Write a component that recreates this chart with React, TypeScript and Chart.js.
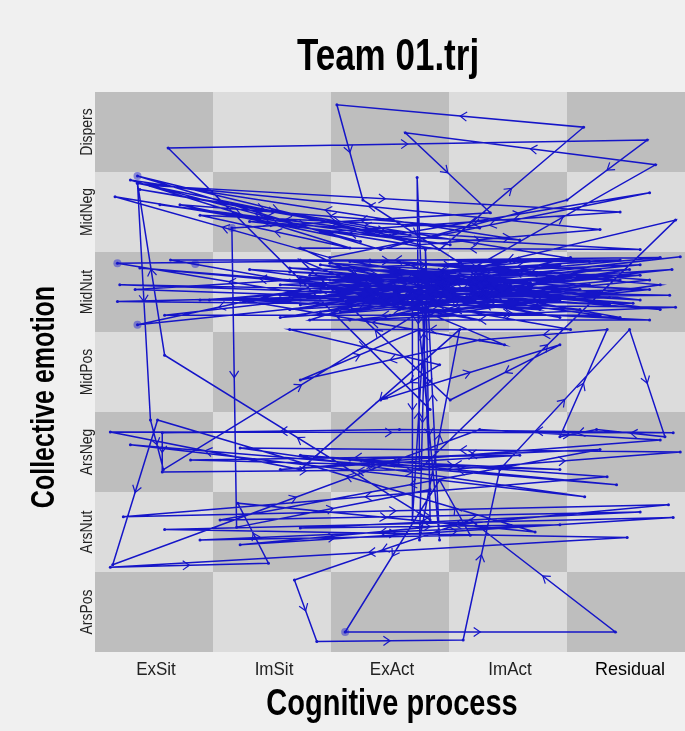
import { useEffect, useRef } from 'react';
import { Chart, registerables } from 'chart.js';

Chart.register(...registerables);

// Axis categories (cell centres sit at 1..5 and 1..7)
const cognitiveProcess = ['ExSit', 'ImSit', 'ExAct', 'ImAct', 'Residual'];
const collectiveEmotion = ['ArsPos', 'ArsNut', 'ArsNeg', 'MidPos', 'MidNut', 'MidNeg', 'Dispers'];

// Trajectory in cell units: [cognitive process, collective emotion]
const phaseOpening: number[][] = [
  [3.34, 3.53], [1.12, 6.80], [5.18, 6.90], [4.50, 6.15], [2.92, 5.53], [0.86, 6.45], [3.25, 5.59],
  [4.78, 5.78], [0.86, 6.36], [3.00, 5.71], [5.20, 6.24], [2.49, 5.43], [0.67, 6.19], [3.42, 5.53],
  [4.64, 7.06], [2.55, 7.34], [2.77, 6.15], [3.68, 5.28], [5.25, 6.59], [3.13, 6.99], [3.85, 5.99],
  [1.66, 5.80], [1.70, 2.06], [3.34, 2.53], [3.23, 6.43], [3.25, 2.78], [5.42, 5.90], [2.58, 4.90],
  [0.69, 5.36], [5.29, 5.43], [2.24, 5.03], [0.86, 4.59], [5.39, 5.28], [1.39, 4.90], [5.37, 4.96],
  [0.71, 5.09], [4.44, 4.90], [2.66, 4.65], [5.42, 4.81], [0.69, 4.88], [5.12, 5.03], [1.81, 5.28],
  [4.78, 4.71], [1.09, 4.71], [5.46, 5.44], [2.92, 5.03], [0.88, 5.30], [5.29, 4.78], [3.34, 5.15],
  [1.47, 4.90], [5.06, 4.86],
];
const phaseMidNut: number[][] = [
  [2.49, 5.15], [4.44, 5.34], [2.24, 4.84], [4.69, 5.09], [2.75, 5.28], [4.95, 5.21], [2.07, 4.96],
  [4.27, 4.78], [3.08, 5.38], [5.20, 5.15], [2.41, 4.75], [3.93, 5.21], [2.15, 5.30], [4.86, 4.93],
  [2.83, 4.84], [4.53, 5.43], [2.32, 5.09], [4.19, 5.03], [2.66, 5.38], [4.78, 5.28], [2.07, 4.68],
  [4.10, 4.90], [2.92, 5.21], [5.12, 5.34], [2.49, 4.96], [3.76, 4.65], [2.15, 5.15], [4.36, 5.15],
  [3.08, 4.78], [4.95, 4.68], [2.58, 5.30], [4.02, 5.38], [2.24, 4.90], [4.61, 4.78], [2.75, 5.09],
  [5.12, 4.90], [2.41, 5.34], [3.85, 4.96], [3.25, 4.68], [5.29, 5.09], [2.83, 5.40], [4.19, 5.25],
  [2.15, 4.78], [4.78, 5.00], [2.66, 5.18], [4.44, 4.68], [3.17, 5.00], [4.02, 4.80], [3.59, 5.38],
  [4.69, 5.38],
];
const phaseMidNeg: number[][] = [
  [0.88, 6.28], [3.17, 5.71], [1.05, 6.09], [3.51, 5.59], [1.81, 5.88], [4.10, 5.65], [0.80, 6.40],
  [2.66, 5.55], [1.39, 5.96], [3.76, 5.80], [1.22, 6.09], [2.75, 5.63], [0.97, 6.33], [4.95, 6.00],
  [2.41, 5.75], [5.12, 5.53], [2.24, 5.55],
];
const phaseAroused: number[][] = [
  [3.19, 4.90], [3.19, 2.15], [3.30, 4.84], [3.25, 1.90], [3.59, 4.53], [2.24, 2.78], [0.63, 3.25],
  [5.40, 3.24], [3.08, 3.28], [1.07, 3.24], [1.07, 2.75], [3.51, 2.78], [5.46, 3.00], [1.73, 3.05],
  [4.65, 2.44], [0.80, 3.09], [4.92, 2.59], [2.24, 2.96], [4.84, 2.69], [0.74, 2.19], [5.36, 2.34],
  [1.73, 1.84], [5.40, 2.18], [1.09, 2.03], [5.01, 1.93], [0.63, 1.56], [1.97, 1.61], [1.71, 2.36],
  [4.23, 2.00], [1.03, 3.40], [0.65, 1.59], [3.76, 3.28], [5.29, 3.15], [2.07, 2.78], [4.10, 2.96],
  [1.31, 2.90], [4.44, 2.78], [2.66, 2.90], [4.78, 3.03], [1.56, 2.15], [5.12, 2.25], [2.24, 2.05],
  [4.44, 2.09], [1.39, 1.90], [3.68, 1.96],
];
const phaseBottom: number[][] = [
  [3.42, 2.65], [2.62, 0.75], [4.91, 0.75], [3.68, 2.15], [2.19, 1.40], [2.38, 0.63], [3.62, 0.65],
  [3.93, 2.78], [5.03, 4.53], [5.33, 3.19], [4.75, 3.28], [4.44, 3.19], [4.84, 4.53], [3.76, 4.40],
  [2.24, 3.90], [3.25, 4.53], [3.42, 1.90], [3.30, 5.53], [3.34, 2.15],
];
const phaseClosing: number[][] = [
  [1.09, 4.21], [0.86, 6.36], [0.97, 3.40], [1.08, 2.78], [3.42, 4.90], [0.84, 5.03], [4.95, 5.40],
  [1.14, 5.40], [4.53, 4.53], [2.15, 4.53], [3.42, 4.09], [2.92, 3.65], [4.44, 4.34], [3.51, 3.65],
  [2.24, 5.40], [3.97, 4.34], [1.73, 4.90], [5.20, 4.65], [2.32, 4.65], [3.25, 5.09],
];
const phaseMidNutLate: number[][] = [
  [2.32, 5.21], [4.61, 5.03], [2.58, 4.75], [5.03, 5.28], [2.07, 5.09], [4.27, 4.93], [2.83, 5.34],
  [4.86, 4.84], [2.41, 5.00], [4.53, 5.18], [3.00, 4.71], [5.20, 5.03], [2.15, 5.25], [4.02, 5.09],
  [2.66, 4.84], [4.95, 5.15], [2.49, 5.36], [4.36, 4.96], [2.92, 4.93], [5.12, 5.21], [2.24, 5.18],
  [4.69, 4.88], [3.08, 5.25], [4.19, 5.12], [2.75, 4.96],
];
// Long visits drawn as larger dots
const longStops: number[][] = [
  [0.86, 6.45], [1.66, 5.80], [0.86, 4.59], [2.62, 0.75], [0.69, 5.36], [1.35, 5.35],
];

const LINE = '#1515c8';
const DARK = '#bebebe';
const LIGHT = '#dcdcdc';
const FONT = '"Liberation Sans", Arial, Helvetica, sans-serif';

function stretchText(ctx: CanvasRenderingContext2D, text: string, x: number, y: number, font: string,
  stretch: number, rotate: boolean, color: string) {
  ctx.save();
  ctx.translate(x, y);
  if (rotate) ctx.rotate(-Math.PI / 2);
  ctx.scale(1, stretch);
  ctx.font = font;
  ctx.fillStyle = color;
  ctx.textAlign = 'center';
  ctx.textBaseline = 'alphabetic';
  ctx.fillText(text, 0, 0);
  ctx.restore();
}

const gridPlugin = {
  id: 'stateSpaceGrid',
  beforeDraw(chart: any) {
    const { ctx, width, height } = chart;
    ctx.save();
    ctx.fillStyle = '#f0f0f0';
    ctx.fillRect(0, 0, width, height);
    ctx.restore();
  },
  beforeDatasetsDraw(chart: any) {
    const { ctx, scales } = chart;
    const xs = scales.x, ys = scales.y;
    ctx.save();
    for (let c = 0; c < cognitiveProcess.length; c++) {
      for (let r = 0; r < collectiveEmotion.length; r++) {
        const x0 = xs.getPixelForValue(c + 0.5), x1 = xs.getPixelForValue(c + 1.5);
        const y0 = ys.getPixelForValue(r + 1.5), y1 = ys.getPixelForValue(r + 0.5);
        ctx.fillStyle = (c + r) % 2 === 0 ? DARK : LIGHT;
        ctx.fillRect(x0, y0, x1 - x0, y1 - y0);
      }
    }
    ctx.restore();
  },
  afterDatasetsDraw(chart: any) {
    const { ctx, chartArea } = chart;
    const pts = chart.getDatasetMeta(0).data;
    ctx.save();
    ctx.beginPath();
    ctx.rect(chartArea.left, chartArea.top, chartArea.right - chartArea.left, chartArea.bottom - chartArea.top);
    ctx.clip();
    ctx.strokeStyle = LINE;
    ctx.lineWidth = 1.2;
    const arm = 8;
    for (let i = 0; i < pts.length - 1; i++) {
      const a = pts[i], b = pts[i + 1];
      const mx = (a.x + b.x) / 2, my = (a.y + b.y) / 2;
      const ang = Math.atan2(b.y - a.y, b.x - a.x);
      ctx.beginPath();
      ctx.moveTo(mx + arm * Math.cos(ang + Math.PI - 0.6), my + arm * Math.sin(ang + Math.PI - 0.6));
      ctx.lineTo(mx, my);
      ctx.lineTo(mx + arm * Math.cos(ang + Math.PI + 0.6), my + arm * Math.sin(ang + Math.PI + 0.6));
      ctx.stroke();
    }
    ctx.restore();
  },
  afterDraw(chart: any) {
    const { ctx, scales } = chart;
    const xs = scales.x, ys = scales.y;
    stretchText(ctx, 'Team 01.trj', 388, 70, `bold 35px ${FONT}`, 1.25, false, '#000');
    stretchText(ctx, 'Cognitive process', 392, 715, `bold 29px ${FONT}`, 1.25, false, '#000');
    stretchText(ctx, 'Collective emotion', 54, 397, `bold 25px ${FONT}`, 1.3, true, '#000');
    cognitiveProcess.forEach((lab, i) => {
      const last = i === cognitiveProcess.length - 1;
      stretchText(ctx, lab, xs.getPixelForValue(i + 1) + (last ? 4 : 2), 675,
        `${last ? 18 : 17}px ${FONT}`, last ? 1.05 : 1.12, false, last ? '#000' : '#222');
    });
    collectiveEmotion.forEach((lab, i) => {
      stretchText(ctx, lab, 92, ys.getPixelForValue(i + 1), `14px ${FONT}`, 1.15, true, '#222');
    });
  },
};

export default function App() {
  const ref = useRef<HTMLCanvasElement | null>(null);
  useEffect(() => {
    document.body.style.margin = '0';
    document.body.style.background = '#f0f0f0';
    const trajectory = [...phaseOpening, ...phaseMidNut, ...phaseMidNeg, ...phaseAroused, ...phaseBottom,
      ...phaseClosing, ...phaseMidNutLate].map(([x, y]) => ({ x, y }));
    const stops = longStops.map(([x, y]) => ({ x, y }));
    const chart = new Chart(ref.current as HTMLCanvasElement, {
      type: 'scatter',
      data: {
        datasets: [
          {
            data: trajectory,
            showLine: true,
            borderColor: LINE,
            borderWidth: 1.5,
            pointRadius: 1.5,
            pointBackgroundColor: LINE,
            pointBorderWidth: 0,
            tension: 0,
          },
          {
            data: stops,
            showLine: false,
            pointRadius: 4,
            pointBackgroundColor: 'rgba(60,60,210,0.55)',
            pointBorderWidth: 0,
          },
        ],
      },
      options: {
        animation: false,
        responsive: false,
        devicePixelRatio: 1,
        layout: { autoPadding: false, padding: { top: 92, left: 0, right: 0, bottom: 0 } },
        plugins: { legend: { display: false }, tooltip: { enabled: false }, title: { display: false } },
        scales: {
          x: {
            type: 'linear', min: 0.5, max: 5.5,
            grid: { display: false }, border: { display: false },
            ticks: { display: false },
            afterFit: (s: any) => { s.height = 79; },
          },
          y: {
            type: 'linear', min: 0.5, max: 7.5,
            grid: { display: false }, border: { display: false },
            ticks: { display: false },
            afterFit: (s: any) => { s.width = 95; },
          },
        },
      },
      plugins: [gridPlugin],
    });
    return () => chart.destroy();
  }, []);
  return (
    <div style={{ width: 685, height: 731, background: '#f0f0f0' }}>
      <canvas ref={ref} width={685} height={731} style={{ display: 'block' }} />
    </div>
  );
}
